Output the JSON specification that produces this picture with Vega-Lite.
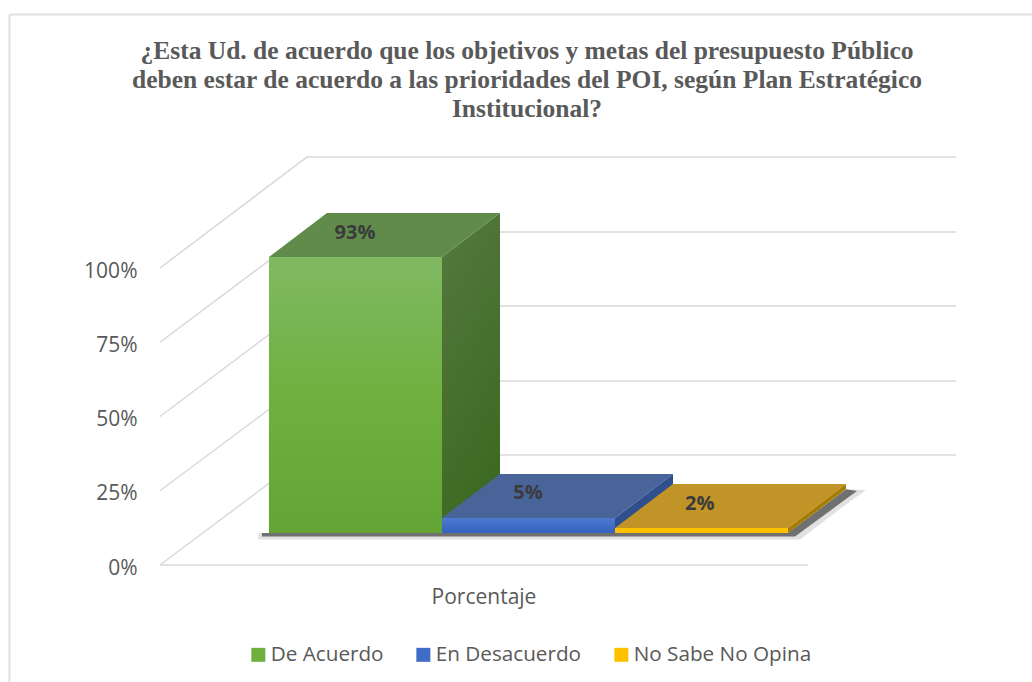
{"$schema":"https://vega.github.io/schema/vega-lite/v6.json","width":1032,"height":682,"autosize":"none","padding":0,"background":"white","title":{"text":["¿Esta Ud. de acuerdo que los objetivos y metas del presupuesto Público","deben estar de acuerdo a las prioridades del POI, según Plan Estratégico","Institucional?"],"anchor":"middle","frame":"group","dx":11,"dy":142,"offset":0,"baseline":"alphabetic","font":"Liberation Serif","fontSize":25.5,"fontWeight":"bold","color":"#595959","lineHeight":29},"config":{"view":{"stroke":null},"font":"Open Sans"},"datasets":{"frentes":[{"parte":"De Acuerdo","x":16.82,"x2":43.52,"y":10.77,"y2":103.7},{"parte":"En Desacuerdo","x":43.52,"x2":70.22,"y":10.77,"y2":15.82},{"parte":"No Sabe No Opina","x":70.22,"x2":96.91,"y":10.77,"y2":12.46}]},"layer":[{"data":{"values":[{"x":-23.23,"y":185.35,"x2":134.57,"y2":185.35},{"x":-23.23,"y":185.35,"x2":-23.23,"y2":-39.39}]},"mark":{"type":"rule","stroke":"#e0e0e0","strokeWidth":2},"encoding":{"x":{"field":"x","type":"quantitative","scale":{"domain":[-24.69,134.57],"nice":false,"zero":false},"axis":null},"y":{"field":"y","type":"quantitative","scale":{"domain":[-39.39,190.24],"nice":false,"zero":false},"axis":{"values":[0,25,50,75,100],"labelExpr":"datum.value + '%'","orient":"left","offset":-160,"labelPadding":23,"labelOffset":3,"domain":false,"ticks":false,"grid":false,"title":null,"labelFont":"Open Sans","labelFontSize":21,"labelColor":"#595959"}},"x2":{"field":"x2"},"y2":{"field":"y2"}}},{"data":{"values":[{"x":0,"y":0,"x2":100,"y2":0},{"x":0,"y":0,"x2":22.69,"y2":37.04},{"x":0,"y":25,"x2":22.69,"y2":61.95},{"x":0,"y":50,"x2":22.69,"y2":87.2},{"x":0,"y":75,"x2":22.69,"y2":112.1},{"x":0,"y":100,"x2":22.69,"y2":137.4},{"x":22.69,"y":37.04,"x2":122.84,"y2":37.04},{"x":22.69,"y":61.95,"x2":122.84,"y2":61.95},{"x":22.69,"y":87.2,"x2":122.84,"y2":87.2},{"x":22.69,"y":112.1,"x2":122.84,"y2":112.1},{"x":22.69,"y":137.4,"x2":122.84,"y2":137.4}]},"mark":{"type":"rule","stroke":"#d9d9d9","strokeWidth":1.5},"encoding":{"x":{"field":"x","type":"quantitative"},"y":{"field":"y","type":"quantitative"},"x2":{"field":"x2"},"y2":{"field":"y2"}}},{"data":{"values":[{"x":15.2,"y":8.6,"y2":10.77},{"x":96.91,"y":8.6,"y2":10.77},{"x":98.77,"y":8.6,"y2":13.9},{"x":105.86,"y":20.4,"y2":25.5},{"x":108.95,"y":25.25,"y2":25.25}]},"mark":{"type":"area","fill":"#777777","opacity":0.22},"encoding":{"x":{"field":"x","type":"quantitative"},"y":{"field":"y","type":"quantitative"},"y2":{"field":"y2"}}},{"data":{"values":[{"x":15.74,"y":9.6,"y2":10.77},{"x":96.91,"y":9.6,"y2":10.77},{"x":98,"y":9.6,"y2":12.6},{"x":105.86,"y":22.2,"y2":25.5},{"x":107.56,"y":24.9,"y2":24.9}]},"mark":{"type":"area","fill":"#333333","opacity":0.65},"encoding":{"x":{"field":"x","type":"quantitative"},"y":{"field":"y","type":"quantitative"},"y2":{"field":"y2"}}},{"data":{"values":[{"x":43.52,"y":10.77,"y2":103.7},{"x":52.47,"y":25.58,"y2":118.52}]},"mark":{"type":"area","fill":{"gradient":"linear","x1":0,"y1":0,"x2":0.3,"y2":1,"stops":[{"offset":0,"color":"#55793e"},{"offset":1,"color":"#3d6a23"}]}},"encoding":{"x":{"field":"x","type":"quantitative"},"y":{"field":"y","type":"quantitative"},"y2":{"field":"y2"}}},{"data":{"values":[{"parte":"De Acuerdo arriba","x":16.82,"y":103.7,"y2":103.7},{"parte":"De Acuerdo arriba","x":25.77,"y":103.7,"y2":118.52},{"parte":"De Acuerdo arriba","x":43.52,"y":103.7,"y2":118.52},{"parte":"De Acuerdo arriba","x":52.47,"y":118.52,"y2":118.52},{"parte":"En Desacuerdo arriba","x":43.52,"y":15.82,"y2":15.82},{"parte":"En Desacuerdo arriba","x":52.47,"y":15.82,"y2":30.64},{"parte":"En Desacuerdo arriba","x":70.22,"y":15.82,"y2":30.64},{"parte":"En Desacuerdo arriba","x":79.17,"y":30.64,"y2":30.64},{"parte":"En Desacuerdo lado","x":70.22,"y":10.77,"y2":15.82},{"parte":"En Desacuerdo lado","x":79.17,"y":25.59,"y2":30.64},{"parte":"No Sabe No Opina arriba","x":70.22,"y":12.46,"y2":12.46},{"parte":"No Sabe No Opina arriba","x":79.17,"y":12.46,"y2":27.27},{"parte":"No Sabe No Opina arriba","x":96.91,"y":12.46,"y2":27.27},{"parte":"No Sabe No Opina arriba","x":105.86,"y":27.27,"y2":27.27},{"parte":"No Sabe No Opina lado","x":96.91,"y":10.77,"y2":12.46},{"parte":"No Sabe No Opina lado","x":105.86,"y":25.59,"y2":27.27}]},"mark":{"type":"area"},"encoding":{"x":{"field":"x","type":"quantitative"},"y":{"field":"y","type":"quantitative"},"y2":{"field":"y2"},"fill":{"field":"parte","type":"nominal"}}},{"data":{"name":"frentes"},"mark":{"type":"rect"},"encoding":{"x":{"field":"x","type":"quantitative"},"x2":{"field":"x2"},"y":{"field":"y","type":"quantitative"},"y2":{"field":"y2"},"fill":{"field":"parte","type":"nominal","scale":{"domain":["De Acuerdo","En Desacuerdo","No Sabe No Opina","De Acuerdo arriba","En Desacuerdo arriba","En Desacuerdo lado","No Sabe No Opina arriba","No Sabe No Opina lado"],"range":["#6fb03f","#3f6cc6","#ffc000","#618b4b","#486499","#2f4f8d","#c09427","#a67c00"]},"legend":{"values":["De Acuerdo","En Desacuerdo","No Sabe No Opina"],"title":null,"orient":"none","legendX":248,"legendY":644,"direction":"horizontal","columns":3,"symbolType":"square","symbolSize":196,"symbolStrokeWidth":0,"labelFont":"Open Sans","labelFontSize":20.7,"labelLimit":400,"labelColor":"#595959","labelOffset":2,"columnPadding":29,"padding":0,"encode":{"symbols":{"update":{"fill":{"signal":"datum.value === 'De Acuerdo' ? {gradient:'linear',x1:0,y1:0,x2:0,y2:1,stops:[{offset:0,color:'#81b963'},{offset:1,color:'#64a437'}]} : datum.value === 'En Desacuerdo' ? {gradient:'linear',x1:0,y1:0,x2:0,y2:1,stops:[{offset:0,color:'#5a82d2'},{offset:1,color:'#2f60bb'}]} : {gradient:'linear',x1:0,y1:0,x2:0,y2:1,stops:[{offset:0,color:'#ffc93a'},{offset:1,color:'#f0b400'}]}"}}}}}}}},{"data":{"name":"frentes"},"transform":[{"filter":"datum.parte === 'De Acuerdo'"}],"mark":{"type":"rect","fill":{"gradient":"linear","x1":0,"y1":0,"x2":0,"y2":1,"stops":[{"offset":0,"color":"#81b963"},{"offset":0.5,"color":"#6fb03f"},{"offset":1,"color":"#64a437"}]}},"encoding":{"x":{"field":"x","type":"quantitative"},"x2":{"field":"x2"},"y":{"field":"y","type":"quantitative"},"y2":{"field":"y2"}}},{"data":{"name":"frentes"},"transform":[{"filter":"datum.parte === 'En Desacuerdo'"}],"mark":{"type":"rect","fill":{"gradient":"linear","x1":0,"y1":0,"x2":0,"y2":1,"stops":[{"offset":0,"color":"#4f79cf"},{"offset":1,"color":"#3263bf"}]}},"encoding":{"x":{"field":"x","type":"quantitative"},"x2":{"field":"x2"},"y":{"field":"y","type":"quantitative"},"y2":{"field":"y2"}}},{"data":{"values":[{"etiqueta":"93%","x":30.09,"y":111.8},{"etiqueta":"5%","x":56.8,"y":24.3},{"etiqueta":"2%","x":83.3,"y":20.6}]},"mark":{"type":"text","font":"Open Sans","fontSize":20,"fontWeight":"bold","color":"#3b3b3b"},"encoding":{"x":{"field":"x","type":"quantitative"},"y":{"field":"y","type":"quantitative"},"text":{"field":"etiqueta"}}},{"data":{"values":[{"etiqueta":"Porcentaje","x":50,"y":-11.1}]},"mark":{"type":"text","font":"Open Sans","fontSize":21,"color":"#595959"},"encoding":{"x":{"field":"x","type":"quantitative"},"y":{"field":"y","type":"quantitative"},"text":{"field":"etiqueta"}}}]}
